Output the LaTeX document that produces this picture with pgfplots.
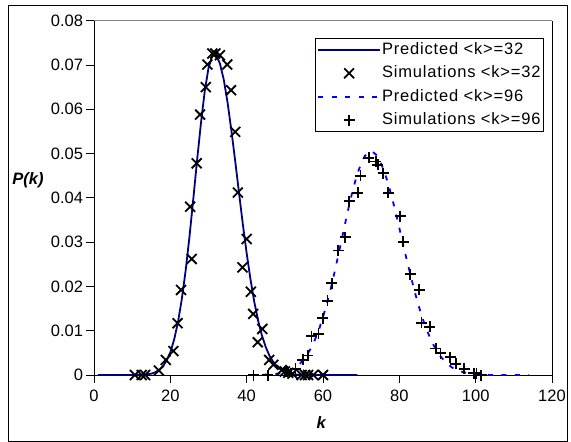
\documentclass[border=0pt]{standalone}
\usepackage{fontspec}
\setmainfont{Liberation Sans}
\usepackage{pgfplots}
\pgfplotsset{compat=1.18}
\definecolor{navy}{RGB}{0,0,128}
\definecolor{pblue}{RGB}{0,0,255}
\definecolor{topgray}{RGB}{128,128,128}
\newcommand{\fs}{\fontsize{16.5}{19.8}\selectfont}
\newcommand{\lfs}{\fontsize{16.5}{19.8}\selectfont\addfontfeatures{LetterSpace=5}}
\begin{document}
\begin{tikzpicture}
\path[use as bounding box] (0pt,0pt) rectangle (571pt,-442pt);
\draw[black, line width=1pt] (8pt,-5pt) rectangle (567pt,-441pt);
\begin{axis}[
  at={(94pt,-375pt)}, anchor=south west,
  scale only axis, width=458pt, height=354.3pt,
  xmin=0, xmax=120, ymin=0, ymax=0.08,
  clip=false,
  scaled y ticks=false, scaled x ticks=false,
  axis x line*=bottom, axis y line*=left,
  axis line style={black, line width=0.8pt, -},
  xtick={0,20,40,60,80,100,120},
  xticklabels={0,20,40,60,80,100,120},
  ytick={0,0.01,0.02,0.03,0.04,0.05,0.06,0.07,0.08},
  yticklabels={0,0.01,0.02,0.03,0.04,0.05,0.06,0.07,0.08},
  tick align=outside, major tick length=7.5pt,
  tick style={black, line width=0.8pt},
  ticklabel style={font=\fs},
  xticklabel style={yshift=-4pt},
  xlabel={\textbf{\textit{k}}},
  ylabel={\textbf{\textit{P(k)}}},
  every axis x label/.style={at={(axis description cs:0.497,-0.135)}, anchor=center, font=\fs},
  every axis y label/.style={at={(axis description cs:-0.144,0.550)}, anchor=center, font=\fs},
  legend style={at={(0.9825,0.950)}, anchor=north east, draw=black, line width=0.8pt,
    font=\lfs, inner xsep=2pt, inner ysep=2pt, row sep=5.5pt,
    nodes={inner sep=1pt, text height=12.5pt, text depth=3.5pt}},
  legend cell align=left,
  legend image code/.code={\draw[mark repeat=2,mark phase=2,#1] plot coordinates {(0pt,0pt) (31pt,0pt) (62pt,0pt)};},
]
% Predicted <k>=32
\addplot[navy, line width=1.8pt, mark=none] coordinates {
(1,0) (12,0) (13,0.0001) (14,0.00016) (15,0.0003) (16,0.0006) (17,0.0011) (18,0.0019)
(19,0.0032) (20,0.0051) (21,0.0080) (22,0.0119) (23,0.0171) (24,0.0235) (25,0.0311)
(26,0.0396) (27,0.0484) (28,0.0567) (29,0.0640) (30,0.0693) (31,0.0721) (32,0.0723)
(33,0.0703) (34,0.0667) (35,0.0615) (36,0.0552) (37,0.0483) (38,0.0411) (39,0.0340)
(40,0.0275) (41,0.0216) (42,0.0165) (43,0.0123) (44,0.0089) (45,0.0063) (46,0.0043)
(47,0.0029) (48,0.0019) (49,0.0012) (50,0.0007) (51,0.0004) (52,0.0002) (53,0.0001)
(54,0) (69,0)
};
\addlegendentry{Predicted <k>=32}
% Simulations <k>=32
\addplot[only marks, mark=x, mark size=7pt, mark options={line width=1.8pt, black}] coordinates {
(10.7,0) (12.5,0) (13.4,0) (17.0,0.0010) (18.8,0.0034) (20.8,0.0054) (21.9,0.0117)
(22.8,0.0192) (25.6,0.0262) (25.2,0.0380) (26.9,0.0478) (27.8,0.0588) (29.3,0.0650)
(29.7,0.0701) (31.0,0.0726) (31.8,0.0726) (33.0,0.0722) (34.9,0.0701) (35.9,0.0643)
(37.0,0.0549) (37.7,0.0412) (38.9,0.0243) (40.0,0.0307) (41.1,0.0188) (41.7,0.0138)
(42.9,0.0074) (44.1,0.0104) (45.9,0.0034) (47.0,0.0023) (49.2,0.0011) (50.0,0.0008)
(50.9,0.0005) (52.0,0.0003) (54.4,0) (55.3,0) (56.1,0) (57.5,0) (60.0,0)
};
\addlegendentry{Simulations <k>=32}
% Predicted <k>=96
\addplot[pblue, line width=1.8pt, dash pattern=on 5pt off 8.5pt, mark=none] coordinates {
(44,0) (45,0.0001) (46,0.0001) (47,0.0002) (48,0.0003) (49,0.0004) (50,0.0006)
(51,0.0009) (52,0.0013) (53,0.0019) (54,0.0026) (55,0.0036) (56,0.0048) (57,0.0063)
(58,0.0082) (59,0.0104) (60,0.0131) (61,0.0161) (62,0.0194) (63,0.0231) (64,0.0270)
(65,0.0310) (66,0.0350) (67,0.0389) (68,0.0424) (69,0.0454) (70,0.0478) (71,0.0495)
(72,0.0504) (73,0.0504) (74,0.0497) (75,0.0482) (76,0.0461) (77,0.0434) (78,0.0403)
(79,0.0369) (80,0.0332) (81,0.0295) (82,0.0258) (83,0.0223) (84,0.0189) (85,0.0158)
(86,0.0130) (87,0.0106) (88,0.0085) (89,0.0067) (90,0.0052) (91,0.0040) (92,0.0030)
(93,0.0022) (94,0.0016) (95,0.0012) (96,0.0008) (97,0.0006) (98,0.0004) (99,0.0003)
(100,0.0002) (101,0.0001) (102,0.0001) (103,0) (114,0)
};
\addlegendentry{Predicted <k>=96}
% Simulations <k>=96
\addplot[only marks, mark=+, mark size=5.5pt, mark options={line width=1.8pt, black}] coordinates {
(41.8,0) (45.5,0) (50.0,0.0008) (50.5,0.0008) (52.8,0.0014) (54.7,0.0034) (56.0,0.0044)
(57.0,0.0088) (58.8,0.0093) (59.9,0.0128) (61.2,0.0168) (62.3,0.0207) (64.0,0.0281)
(65.8,0.0311) (66.9,0.0392) (69.1,0.0411) (69.8,0.0450) (72.0,0.0490) (73.8,0.0482)
(74.4,0.0475) (75.8,0.0456) (77.1,0.0411) (80.2,0.0359) (81.0,0.0301) (82.8,0.0228)
(85.2,0.0192) (85.8,0.0118) (88.0,0.0109) (89.6,0.0060) (90.8,0.0049) (93.3,0.0040)
(94.8,0.0025) (97.0,0.0014) (99.5,0.0004) (100.2,0.0004) (101.5,0)
};
\addlegendentry{Simulations <k>=96}
\draw[topgray, line width=1pt] (rel axis cs:0,1) -- (rel axis cs:1,1);
\draw[black, line width=1pt] (rel axis cs:1,0) -- (rel axis cs:1,1);
\end{axis}
\end{tikzpicture}
\end{document}
